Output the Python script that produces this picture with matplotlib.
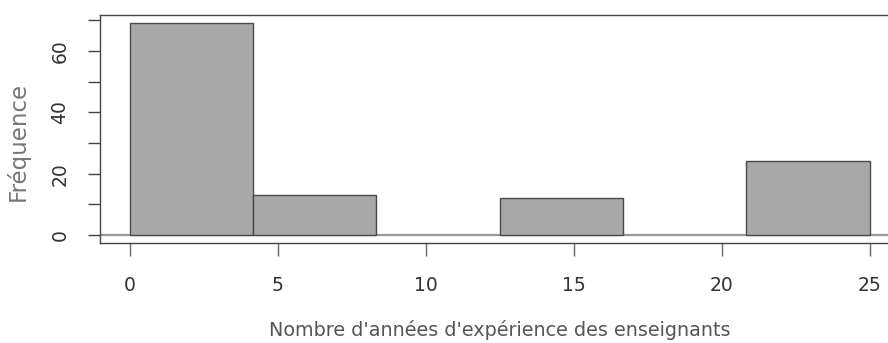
import numpy as np
import matplotlib.pyplot as plt

# données de l'histogramme (classes de largeur 25/6)
breaks = np.linspace(0, 25, 7)
counts = [69, 13, 0, 12, 0, 24]
xticks = [0, 5, 10, 15, 20, 25]
yticks = [0, 10, 20, 30, 40, 50, 60, 70]
ylabels = ['0', '', '20', '', '40', '', '60', '']

plt.rcParams['font.family'] = 'DejaVu Sans'

fig = plt.figure(figsize=(8.88, 3.43), dpi=100)
ax = fig.add_axes([0.1126, 0.2915, 0.9, 0.6645])

ax.axhline(0, color='#9a9a9a', lw=1.6, zorder=1)
# les classes vides ne sont pas tracées (seule la ligne de base reste)
lws = [1.0 if c > 0 else 0 for c in counts]
ax.bar(breaks[:-1], counts, width=np.diff(breaks), align='edge',
       color='#a8a8a8', edgecolor='#4a4a4a', linewidth=lws, zorder=2)

ax.set_xlim(-1.01, 26)
ax.set_ylim(-2.6, 71.7)

ax.set_xticks(xticks)
ax.set_yticks(yticks)
ax.set_yticklabels(ylabels, rotation=90, va='center')
ax.tick_params(axis='x', length=9, width=1, color='#666666', pad=15,
               labelsize=13.5, labelcolor='#333333')
ax.tick_params(axis='y', length=9, width=1, color='#444444', pad=13,
               labelsize=13.5, labelcolor='#333333')

for s in ax.spines.values():
    s.set_color('#444444')
    s.set_linewidth(1.0)

ax.set_xlabel("Nombre d'années d'expérience des enseignants",
              fontsize=13.8, color='#555555', labelpad=18)
ax.set_ylabel('Fréquence', fontsize=16.5, color='#777777')
ax.yaxis.set_label_coords(-0.088, 0.445)

fig.savefig('out.png', dpi=100)
